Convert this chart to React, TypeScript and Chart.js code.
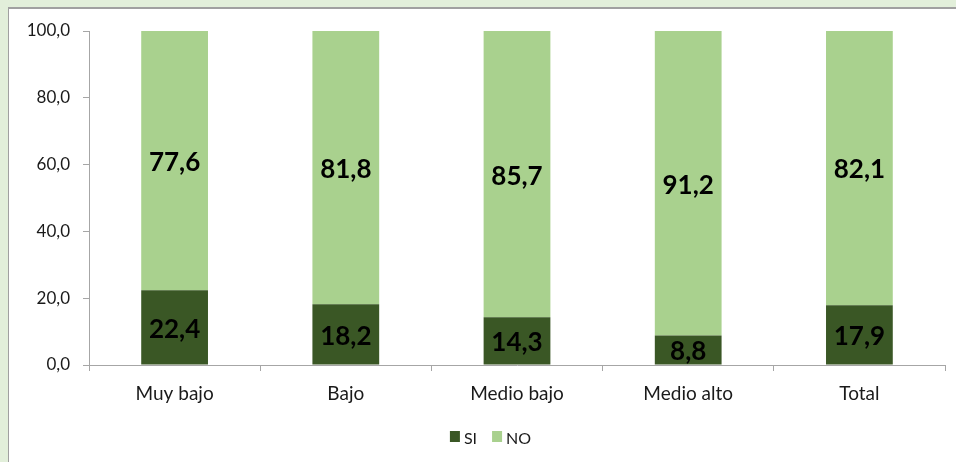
import React, { useEffect, useRef } from "react";
import { Chart, registerables } from "chart.js";

Chart.register(...registerables);

const categories = ["Muy bajo", "Bajo", "Medio bajo", "Medio alto", "Total"];
const siValues = [22.4, 18.2, 14.3, 8.8, 17.9];
const noValues = [77.6, 81.8, 85.7, 91.2, 82.1];
const yTicks = [0, 20, 40, 60, 80, 100];

const fmt = (v: number) => v.toFixed(1).replace(".", ",");

const FONT = "Lato, 'Open Sans', sans-serif";

const labelPlugin = {
  id: "segLabels",
  afterDatasetsDraw(chart: any) {
    const ctx = chart.ctx;
    ctx.save();
    ctx.font = `bold 26px ${FONT}`;
    ctx.fillStyle = "#000";
    ctx.textAlign = "center";
    ctx.textBaseline = "middle";
    chart.data.datasets.forEach((ds: any, di: number) => {
      const meta = chart.getDatasetMeta(di);
      meta.data.forEach((bar: any, i: number) => {
        const { x, y, base } = bar.getProps(["x", "y", "base"], true);
        ctx.fillText(fmt(ds.data[i]), x, (y + base) / 2 + 2);
      });
    });
    ctx.restore();
  },
};

// Legend drawn at the bottom, centred like the original (Excel-style)
const legendPlugin = {
  id: "bottomLegend",
  afterDraw(chart: any) {
    const ctx = chart.ctx;
    ctx.save();
    ctx.font = `16px ${FONT}`;
    ctx.textBaseline = "middle";
    ctx.textAlign = "left";
    const items = chart.data.datasets.map((ds: any) => ({
      text: ds.label,
      color: ds.backgroundColor,
      w: ctx.measureText(ds.label).width,
    }));
    const box = 10;
    const gapText = 4;
    const gapItem = 15;
    const total =
      items.reduce((s: number, it: any) => s + box + gapText + it.w, 0) +
      gapItem * (items.length - 1);
    const cx = chart.width / 2 + 12.5;
    const cy = chart.chartArea.bottom + 74;
    let x = cx - total / 2;
    items.forEach((it: any) => {
      ctx.fillStyle = it.color;
      ctx.fillRect(x, cy - 8, box, 11);
      ctx.fillStyle = "#1a1a1a";
      ctx.fillText(it.text, x + box + gapText, cy);
      x += box + gapText + it.w + gapItem;
    });
    ctx.restore();
  },
};

export default function App() {
  const ref = useRef<HTMLCanvasElement>(null);
  useEffect(() => {
    if (!ref.current) return;
    const chart = new Chart(ref.current, {
      type: "bar",
      data: {
        labels: categories,
        datasets: [
          {
            label: "SI",
            data: siValues,
            backgroundColor: "#3a5725",
            categoryPercentage: 1,
            barPercentage: 0.39,
          },
          {
            label: "NO",
            data: noValues,
            backgroundColor: "#a9d18e",
            categoryPercentage: 1,
            barPercentage: 0.39,
          },
        ],
      },
      options: {
        responsive: false,
        animation: false,
        devicePixelRatio: 1,
        layout: { padding: { left: 0, right: 11, top: 31, bottom: 40 } },
        plugins: {
          tooltip: { enabled: false },
          legend: { display: false },
        },
        scales: {
          x: {
            stacked: true,
            border: { color: "#a6a6a6", width: 1 },
            grid: {
              display: true,
              drawOnChartArea: false,
              drawTicks: true,
              tickLength: 6,
              color: "#a6a6a6",
              offset: true,
            },
            ticks: {
              color: "#1a1a1a",
              padding: 11,
              font: { family: FONT, size: 19 },
              maxRotation: 0,
            },
            afterFit: (s: any) => {
              s.height = 57;
            },
          },
          y: {
            stacked: true,
            min: 0,
            max: 100,
            border: { color: "#a6a6a6", width: 1 },
            grid: {
              display: true,
              drawOnChartArea: false,
              drawTicks: true,
              tickLength: 6,
              color: "#a6a6a6",
            },
            afterBuildTicks: (s: any) => {
              s.ticks = yTicks.map((v) => ({ value: v }));
            },
            ticks: {
              color: "#1a1a1a",
              padding: 13,
              font: { family: FONT, size: 17 },
              callback: (v: any) => fmt(Number(v)),
            },
            afterFit: (s: any) => {
              s.width = 89;
            },
          },
        },
      },
      plugins: [labelPlugin, legendPlugin],
    });
    return () => chart.destroy();
  }, []);

  return (
    <div
      style={{
        position: "fixed",
        left: 0,
        top: 0,
        width: 956,
        height: 462,
        background: "#e2efda",
        overflow: "hidden",
      }}
    >
      <div
        style={{
          position: "absolute",
          left: 8,
          top: 7,
          width: 1000,
          height: 500,
          background: "#ffffff",
          borderLeft: "1px solid #a0a0a0",
          borderTop: "2px solid #a0a0a0",
        }}
      />
      <canvas
        ref={ref}
        width={956}
        height={462}
        style={{ position: "absolute", left: 0, top: 0, width: 956, height: 462 }}
      />
    </div>
  );
}
